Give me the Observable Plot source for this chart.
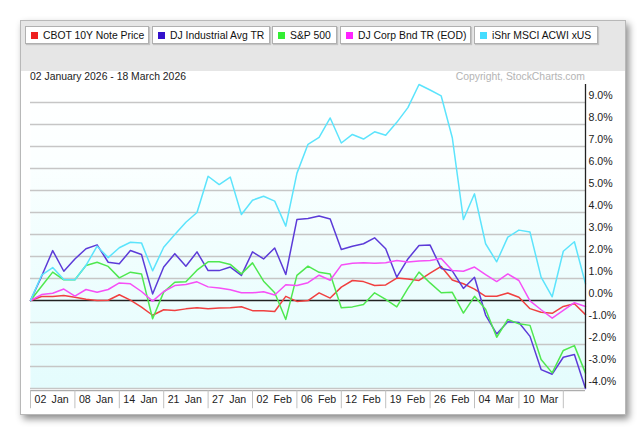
<!DOCTYPE html>
<html><head><meta charset="utf-8">
<script src="https://cdn.jsdelivr.net/npm/d3@7"></script>
<script src="https://cdn.jsdelivr.net/npm/@observablehq/plot@0.6"></script>
<style>
body{margin:0;background:#fff;font-family:Arial,"Liberation Sans",sans-serif;width:642px;height:433px;position:relative;overflow:hidden;}
#frame{position:absolute;left:20px;top:20px;width:604px;height:393px;border:1px solid #b8b8b8;background:#fff;box-shadow:3px 4px 7px rgba(0,0,0,0.45);}
#header{position:absolute;left:21px;top:21px;width:604px;height:50px;background:#e6e6e6;}
.leg{position:absolute;top:26px;height:18px;background:#fff;border:1px solid #b0b0b0;box-shadow:1px 1px 1px rgba(0,0,0,0.15);font-size:10.4px;line-height:17px;color:#111;white-space:nowrap;box-sizing:border-box;}
.sw{display:inline-block;width:7px;height:7px;margin:0 5px 0 5px;}
#title{position:absolute;left:30px;top:71px;font-size:10.4px;color:#222;}
#copy{position:absolute;right:57px;top:71px;font-size:10.4px;color:#b4b4b4;}
#chart{position:absolute;left:0;top:80px;}
</style></head>
<body>
<div id="frame"></div>
<div id="header"></div>
<div id="legend"></div>
<div id="title">02 January 2026 - 18 March 2026</div>
<div id="copy">Copyright, StockCharts.com</div>
<div id="chart"></div>
<script>
const dates = [
 "2026-01-02","2026-01-05","2026-01-06","2026-01-07","2026-01-08","2026-01-09","2026-01-12","2026-01-13","2026-01-14","2026-01-15",
 "2026-01-16","2026-01-20","2026-01-21","2026-01-22","2026-01-23","2026-01-26","2026-01-27","2026-01-28","2026-01-29","2026-01-30",
 "2026-02-02","2026-02-03","2026-02-04","2026-02-05","2026-02-06","2026-02-09","2026-02-10","2026-02-11","2026-02-12","2026-02-13",
 "2026-02-17","2026-02-18","2026-02-19","2026-02-23","2026-02-24","2026-02-25","2026-02-26","2026-02-27","2026-03-02","2026-03-03",
 "2026-03-04","2026-03-05","2026-03-06","2026-03-09","2026-03-10","2026-03-11","2026-03-12","2026-03-13","2026-03-16","2026-03-17",
 "2026-03-18"];
const cbot10y = [0,0.18,0.18,0.23,0.15,0.06,0,0.01,0.26,0.02,-0.3,-0.67,-0.42,-0.45,-0.38,-0.33,-0.38,-0.34,-0.33,-0.28,
 -0.46,-0.47,-0.5,0.19,-0.04,0,0.35,0.11,0.61,0.91,0.86,0.68,0.71,1.02,0.98,0.91,1.24,1.55,0.93,0.76,
 0.52,0.19,0.19,0.34,0.15,-0.37,-0.53,-0.58,-0.27,-0.15,-0.64];
const djIndustrial = [0,1.1,2.27,1.33,1.89,2.35,2.53,1.74,1.67,2.27,2.09,0.3,1.52,2.13,1.56,2.21,1.36,1.36,1.52,1.14,
 2.21,1.89,2.39,1.18,3.68,3.73,3.84,3.71,2.32,2.47,2.58,2.85,2.35,1.06,1.89,2.5,2.52,1.46,1.35,0.55,
 1.06,-0.66,-1.52,-0.97,-1.0,-1.63,-3.14,-3.35,-2.58,-2.45,-4.0];
const sp500 = [0,0.65,1.29,0.94,0.94,1.59,1.74,1.55,1.03,1.29,1.21,-0.83,0.38,0.83,0.85,1.38,1.76,1.76,1.64,1.21,
 1.71,0.88,0.35,-0.86,1.14,1.56,1.28,1.21,-0.33,-0.29,-0.18,0.35,0.05,-0.29,0.55,1.29,0.8,0.35,0.37,-0.57,
 0.19,-0.4,-1.67,-0.86,-1.06,-1.13,-2.68,-3.29,-2.27,-2.05,-3.3];
const djCorpBond = [0,0.27,0.33,0.52,0.2,0.5,0.38,0.5,0.8,0.76,0.41,-0.03,0.41,0.68,0.73,0.85,0.62,0.57,0.49,0.35,
 0.35,0.4,0.25,0.72,0.68,0.81,1.15,0.92,1.61,1.69,1.72,1.69,1.72,1.82,1.75,1.8,1.82,1.91,1.36,1.33,
 1.52,1.18,0.86,1.21,0.91,-0.02,-0.42,-0.8,-0.45,-0.1,-0.27];
const acwiExUS = [0,1.15,1.5,0.95,0.94,1.6,2.47,1.95,2.4,2.65,2.62,1.35,2.42,3.0,3.56,4.0,5.65,5.27,5.61,3.91,
 4.56,4.74,4.52,3.38,5.78,7.1,7.42,8.3,7.16,7.55,7.34,7.67,7.51,8.1,8.77,9.82,9.57,9.3,7.4,3.68,
 4.85,2.58,1.76,2.88,3.2,3.11,1.06,0.17,2.24,2.67,0.76];

const seriesNames = ["CBOT 10Y Note Price","DJ Industrial Avg TR","S&P 500","DJ Corp Bnd TR (EOD)","iShr MSCI ACWI xUS"];
const seriesValues = [cbot10y, djIndustrial, sp500, djCorpBond, acwiExUS];
const lineColors = ["#f04040","#5c3bd8","#4fe84f","#f64ff6","#5ce4fc"];
const swatchColors = ["#ee2020","#3311cc","#33ee33","#ff22ff","#44ddff"];
const tickLabels = ["02\u2002Jan","08\u2002Jan","14\u2002Jan","21\u2002Jan","27\u2002Jan","02\u2002Feb","06\u2002Feb","12\u2002Feb","19\u2002Feb","26\u2002Feb","04\u2002Mar","10\u2002Mar"];
const tickDates = ["2026-01-02","2026-01-08","2026-01-14","2026-01-21","2026-01-27","2026-02-02","2026-02-06","2026-02-12","2026-02-19","2026-02-26","2026-03-04","2026-03-10"];
const yTicks = [-4,-3,-2,-1,0,1,2,3,4,5,6,7,8,9];

// legend (HTML)
const legLeft = [25,152,272,340,474], legWidth = [124,118,65,131,124];
const legend = document.getElementById("legend");
seriesNames.forEach((n,k)=>{
  const d = document.createElement("div");
  d.className = "leg";
  d.style.left = legLeft[k]+"px"; d.style.width = legWidth[k]+"px";
  d.innerHTML = `<span class="sw" style="background:${swatchColors[k]}"></span>${n}`;
  legend.appendChild(d);
});

const rows = [];
seriesNames.forEach((n,k)=> seriesValues[k].forEach((v,i)=> rows.push({series:n, i, date:dates[i], v})));
const tickIdx = tickDates.map(d => dates.indexOf(d));
const sepIdx = [...tickIdx, 48];
const last = dates.length - 1;

const chart = Plot.plot({
  width: 642, height: 332,
  marginLeft: 30, marginRight: 57, marginTop: 4, marginBottom: 24,
  style: {background: "none", overflow: "visible", fontFamily: "Arial, 'Liberation Sans', sans-serif", fontSize: "10.6px", color: "#222"},
  x: {domain: [0, last], axis: null},
  y: {domain: [-4, 9.82], axis: null},
  color: {domain: seriesNames, range: lineColors},
  marks: [
    Plot.frame({fill: "url(#bgGrad)", stroke: "none"}),
    Plot.ruleY(yTicks.filter(d => d !== 0), {stroke: "#c6c6c6", strokeWidth: 1.6}),
    Plot.ruleY([-4.1], {x1: 0, x2: last, stroke: "#9a9a9a", strokeWidth: 1}),
    Plot.ruleX(sepIdx, {y1: -4.1, y2: -4.92, stroke: "#c0c0c0", strokeWidth: 1}),
    Plot.text(tickIdx, {x: d => d, y: -4.5, text: (d,j) => tickLabels[j], textAnchor: "start", dx: 4, fill: "#222", fontSize: 10.6}),
    Plot.ruleY([0], {stroke: "#222", strokeWidth: 1.4}),
    Plot.line(rows, {x: "i", y: "v", z: "series", stroke: "series", strokeWidth: 1.5}),
    Plot.ruleX([last], {stroke: "#222", strokeWidth: 1.3}),
    Plot.axisY(yTicks, {anchor: "right", tickSize: 0, tickPadding: 3, dy: -7, textAnchor: "start", tickFormat: d => d.toFixed(1) + "%", label: null, fill: "#222"})
  ]
});
chart.insertAdjacentHTML("afterbegin",
  `<defs><linearGradient id="bgGrad" x1="0" y1="0" x2="0" y2="1">
     <stop offset="0" stop-color="#ffffff"/><stop offset="0.25" stop-color="#fbffff"/>
     <stop offset="0.55" stop-color="#f0fefe"/><stop offset="1" stop-color="#e4fcfd"/>
   </linearGradient></defs>`);
document.getElementById("chart").appendChild(chart);
</script>
</body></html>
